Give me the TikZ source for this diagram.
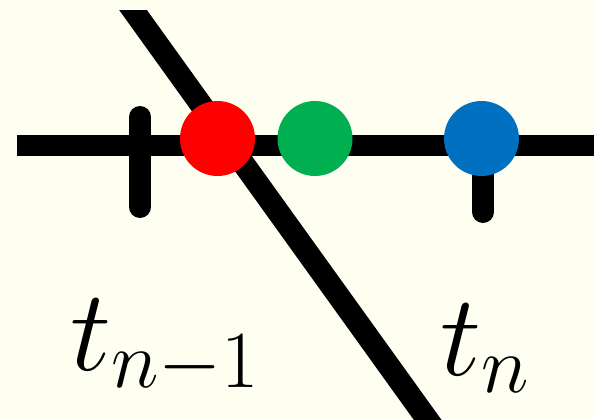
\RequirePackage{fix-cm}
\documentclass[tikz,border=0pt]{standalone}
\usepackage{amsmath}
\usepackage{tikz}
\usetikzlibrary{positioning,calc}
\definecolor{paper}{HTML}{FEFEF1}
\definecolor{dotred}{HTML}{FF0000}
\definecolor{dotgreen}{HTML}{00B050}
\definecolor{dotblue}{HTML}{0070C0}
\tikzset{
  % Axis and ticks
  axis/.style={line width=0.42cm,black,line cap=butt},
  tick/.style={line width=0.44cm,black,line cap=round},
  cut/.style={line width=0.45cm,black,line cap=butt},
  % Sample points
  pt/.style={circle,draw=none,minimum size=1.5cm,inner sep=0pt},
  % Time labels
  tlab/.style={inner sep=0pt,anchor=base,font=\fontsize{66}{80}\selectfont}
}

\begin{document}
\begin{tikzpicture}[x=0.02cm,y=-0.02cm]
  \fill[paper] (0,0) rectangle (594,419);
  \useasboundingbox (0,0) rectangle (594,419);

  % axis and tick marks
  \coordinate (ax0) at (17,145);
  \coordinate (ax1) at (594,145);
  \draw[axis] (ax0) -- (ax1);
  \coordinate (k0a) at (140,117);
  \coordinate (k0b) at (140,207);
  \draw[tick] (k0a) -- (k0b);
  \coordinate (k1a) at (483,145);
  \coordinate (k1b) at (483,212);
  \draw[tick] (k1a) -- (k1b);

  % crossing line
  \coordinate (c0) at (103.6,-30.9);
  \coordinate (c1) at (456.4,459.9);
  \begin{scope}
    \clip (0,10) rectangle (594,419);
    \draw[cut] (c0) -- (c1);
  \end{scope}

  % sample points
  \node[pt,fill=dotred]   (pr) at (217.5,138.5) {};
  \node[pt,fill=dotgreen] (pg) at (315,138.5) {};
  \node[pt,fill=dotblue]  (pb) at (481.5,138.5) {};

  % labels
  \node[tlab] (lprev) at (165,370) {$t_{n-1}$};
  \node[tlab] (lcur)  at (485.5,375) {$t_n$};
\end{tikzpicture}
\end{document}
